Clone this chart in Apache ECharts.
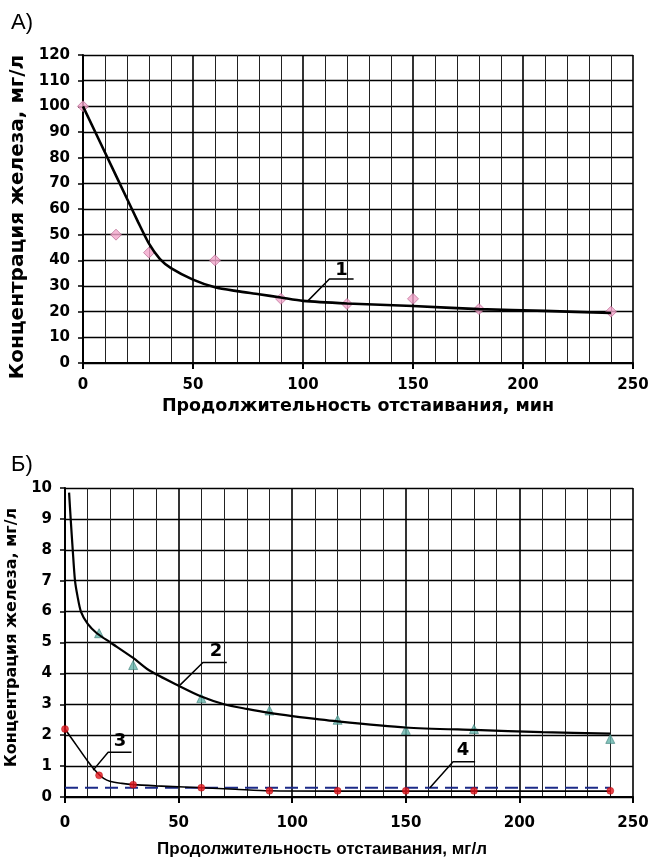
<!DOCTYPE html>
<html>
<head>
<meta charset="utf-8">
<script src="https://cdn.jsdelivr.net/npm/echarts@6/dist/echarts.min.js"></script>
<style>
html,body{margin:0;padding:0;background:#fff;}
#c{width:651px;height:858px;}
</style>
</head>
<body>
<div id="c"></div>
<script>
// ---------- Chart A data ----------
const xTicks = [0, 50, 100, 150, 200, 250];
const aTimes = [0, 15, 30, 60, 90, 120, 150, 180, 240];
const aIron = [100, 50, 43, 40, 25, 23, 25, 21, 20];
const curve1X = [0, 10, 20, 25, 30, 35, 40, 50, 60, 70, 80, 90, 100, 120, 150, 180, 210, 240];
const curve1Y = [100, 82, 64, 55, 46.5, 40.5, 37, 32.5, 29.5, 28, 26.8, 25.5, 24.2, 23.2, 22.2, 21, 20.3, 19.5];
const lead1X = [102, 112, 123];
const lead1Y = [24, 32.7, 32.7];
const label1 = {x: 117.5, y: 36, text: '1'};

// ---------- Chart Б data ----------
const bTimes2 = [15, 30, 60, 90, 120, 150, 180, 240];
const bIron2 = [5.3, 4.27, 3.2, 2.8, 2.5, 2.17, 2.2, 1.88];
const curve2X = [1.8, 2.5, 3.4, 4.4, 5.5, 7, 10, 14, 20, 30, 37, 50, 60, 70, 80, 90, 100, 120, 150, 180, 210, 240];
const curve2Y = [9.85, 9, 8, 7, 6.5, 6, 5.6, 5.3, 5.0, 4.5, 4.1, 3.6, 3.25, 3.0, 2.85, 2.72, 2.62, 2.45, 2.25, 2.17, 2.1, 2.05];
const bTimes3 = [0, 15, 30, 60, 90, 120, 150, 180, 240];
const bIron3 = [2.2, 0.7, 0.4, 0.3, 0.2, 0.2, 0.2, 0.2, 0.2];
const curve3X = [0, 5, 10, 14, 17, 20, 25, 30, 40, 50, 60, 75, 90, 120, 150, 180, 240];
const curve3Y = [2.2, 1.68, 1.16, 0.8, 0.6, 0.5, 0.44, 0.4, 0.36, 0.33, 0.3, 0.25, 0.2, 0.19, 0.19, 0.19, 0.19];
const line4X = [0, 240];
const line4Y = [0.3, 0.3];
const lead2X = [50.6, 60.7, 71.2];
const lead2Y = [3.62, 4.35, 4.35];
const label2 = {x: 66.5, y: 4.72, text: '2'};
const lead3X = [12.4, 19, 29.3];
const lead3Y = [0.87, 1.45, 1.45];
const label3 = {x: 24.2, y: 1.8, text: '3'};
const lead4X = [160.6, 170.8, 180.5];
const lead4Y = [0.3, 1.14, 1.14];
const label4 = {x: 175.2, y: 1.5, text: '4'};

const zip = (xs, ys) => xs.map((x, i) => [x, ys[i]]);
const FONT = 'DejaVu Sans, Liberation Sans, Arial, sans-serif';
const ARIAL = 'Liberation Sans, Arial, sans-serif';
const NARROW = 'Liberation Sans Narrow, Liberation Sans, Arial, sans-serif';

function xAxisCfg(gridIndex, name, nameGap, nameFont, nameSize, namePad, labelMargin) {
  return {
    gridIndex, type: 'value', min: 0, max: 250, interval: 50,
    name, nameLocation: 'middle', nameGap,
    nameTextStyle: {fontFamily: nameFont, fontWeight: 'bold', fontSize: nameSize, color: '#000', padding: namePad},
    axisLine: {lineStyle: {color: '#000', width: 2}},
    axisTick: {show: true, length: 6, lineStyle: {color: '#000', width: 2}},
    axisLabel: {fontFamily: FONT, fontWeight: 'bold', fontSize: 15, color: '#000', margin: labelMargin},
    splitLine: {show: true, lineStyle: {color: '#000', width: 1.6}},
    minorTick: {show: false, splitNumber: 5},
    minorSplitLine: {show: true, lineStyle: {color: '#222', width: 1}}
  };
}
function yAxisCfg(gridIndex, max, interval, name, nameGap, nameSize, namePad) {
  return {
    gridIndex, type: 'value', min: 0, max, interval,
    name, nameLocation: 'middle', nameGap,
    nameTextStyle: {fontFamily: FONT, fontWeight: 'bold', fontSize: nameSize, color: '#000', padding: namePad},
    axisLine: {show: true, lineStyle: {color: '#000', width: 2}},
    axisTick: {show: true, length: 5, lineStyle: {color: '#000', width: 1.5}},
    axisLabel: {fontFamily: FONT, fontWeight: 'bold', fontSize: 15, color: '#000', margin: 13},
    splitLine: {show: true, lineStyle: {color: '#000', width: 1.3}}
  };
}
function curve(xi, yi, data, width) {
  return {type: 'line', xAxisIndex: xi, yAxisIndex: yi, data, smooth: 0.25,
    showSymbol: false, symbol: 'none', lineStyle: {color: '#000', width}, z: 3, silent: true};
}
function leader(xi, yi, data) {
  return {type: 'line', xAxisIndex: xi, yAxisIndex: yi, data, smooth: false,
    showSymbol: false, symbol: 'none', lineStyle: {color: '#000', width: 1.5}, z: 4, silent: true};
}
function tag(xi, yi, lab) {
  return {type: 'scatter', xAxisIndex: xi, yAxisIndex: yi, symbolSize: 1, z: 7,
    itemStyle: {opacity: 0},
    data: [{value: [lab.x, lab.y], name: lab.text}],
    label: {show: true, position: 'inside', formatter: '{b}', fontFamily: FONT,
      fontWeight: 'bold', fontSize: 18, color: '#000', opacity: 1, textBorderWidth: 0}};
}

const option = {
  backgroundColor: '#fff',
  animation: false,
  title: [
    {text: 'А)', left: 6, top: 7, textStyle: {fontFamily: NARROW, fontWeight: 'normal', fontSize: 22, color: '#000'}},
    {text: 'Б)', left: 6, top: 449, textStyle: {fontFamily: NARROW, fontWeight: 'normal', fontSize: 22, color: '#000'}}
  ],
  grid: [
    {left: 83, right: 18, top: 55, height: 308, containLabel: false, outerBoundsMode: 'none'},
    {left: 65, right: 18, top: 488, height: 309, containLabel: false, outerBoundsMode: 'none'}
  ],
  xAxis: [
    xAxisCfg(0, 'Продолжительность отстаивания, мин', 34, FONT, 17.5, [0, 0, 0, 0], 15),
    xAxisCfg(1, 'Продолжительность отстаивания, мг/л', 44, ARIAL, 17, [0, 54, 0, 0], 19)
  ],
  yAxis: [
    yAxisCfg(0, 120, 10, 'Концентрация железа, мг/л', 52, 20, [0, 16, 0, 0]),
    yAxisCfg(1, 10, 1, 'Концентрация железа, мг/л', 37, 16, [0, 0, 0, 10])
  ],
  series: [
    {type: 'scatter', xAxisIndex: 0, yAxisIndex: 0, data: zip(aTimes, aIron), symbol: 'diamond', symbolSize: 11,
      itemStyle: {color: '#f4a6cc', borderColor: '#b05c86', borderWidth: 0.8}, z: 2},
    curve(0, 0, zip(curve1X, curve1Y), 2.6),
    leader(0, 0, zip(lead1X, lead1Y)),
    tag(0, 0, label1),

    {type: 'scatter', xAxisIndex: 1, yAxisIndex: 1, data: zip(bTimes2, bIron2), symbol: 'triangle', symbolSize: 9,
      itemStyle: {color: '#64b4ab', borderColor: '#3f7f79', borderWidth: 0.8}, z: 2},
    curve(1, 1, zip(curve2X, curve2Y), 2.2),
    {type: 'line', xAxisIndex: 1, yAxisIndex: 1, data: zip(line4X, line4Y), showSymbol: false, symbol: 'none',
      lineStyle: {color: '#1b2a88', width: 2.2, type: [13, 7]}, z: 3, silent: true},
    curve(1, 1, zip(curve3X, curve3Y), 1.6),
    {type: 'scatter', xAxisIndex: 1, yAxisIndex: 1, data: zip(bTimes3, bIron3), symbol: 'circle', symbolSize: 7,
      itemStyle: {color: '#e3141c', borderColor: '#a00', borderWidth: 0.5}, z: 6},
    leader(1, 1, zip(lead2X, lead2Y)),
    tag(1, 1, label2),
    leader(1, 1, zip(lead3X, lead3Y)),
    tag(1, 1, label3),
    leader(1, 1, zip(lead4X, lead4Y)),
    tag(1, 1, label4)
  ]
};
const chart = echarts.init(document.getElementById('c'), null, {renderer: 'canvas'});
chart.setOption(option);
</script>
</body>
</html>
